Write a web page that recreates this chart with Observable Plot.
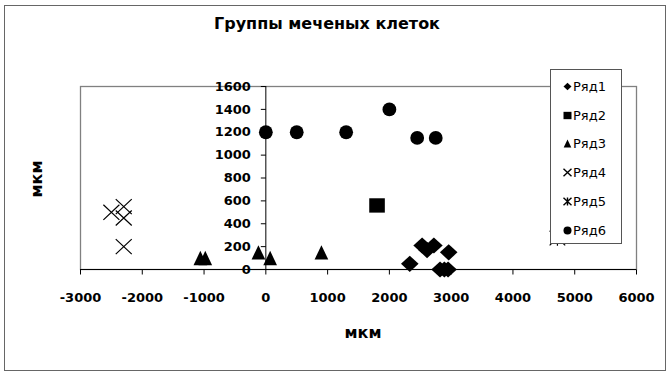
<!DOCTYPE html>
<html><head><meta charset="utf-8">
<script src="https://cdn.jsdelivr.net/npm/d3@7"></script>
<script src="https://cdn.jsdelivr.net/npm/@observablehq/plot@0.6"></script>
<style>
body{margin:0;background:#fff;}
#wrap{position:relative;width:670px;height:373px;overflow:hidden;font-family:"DejaVu Sans",sans-serif;background:#fff;}
#wrap svg.plot{position:absolute;left:0;top:0;}
#border{position:absolute;left:4px;top:5px;width:660px;height:364px;border:1px solid #666;pointer-events:none;}
#title{position:absolute;left:0;width:654px;top:14px;text-align:center;font-weight:bold;font-size:16px;color:#000;}
#xlab{position:absolute;left:343px;width:40px;top:323px;text-align:center;font-weight:bold;font-size:16px;}
#ylab{position:absolute;left:36px;top:179px;font-weight:bold;font-size:16px;transform:translate(-50%,-50%) rotate(-90deg);}
#legend{position:absolute;left:550px;top:69px;width:72px;height:175px;border:1px solid #555;background:#fff;box-sizing:border-box;padding-top:2px;}
.li{height:28.8px;display:flex;align-items:center;font-size:13px;}
.li svg{margin-left:12px;margin-right:1px;}
</style></head><body><div id="wrap"></div>
<script>
const titleText = "Группы меченых клеток";
const xAxisLabel = "мкм";
const yAxisLabel = "мкм";
const seriesNames = ["Ряд1", "Ряд2", "Ряд3", "Ряд4", "Ряд5", "Ряд6"];
const xTicks = [-3000, -2000, -1000, 0, 1000, 2000, 3000, 4000, 5000, 6000];
const yTicks = [0, 200, 400, 600, 800, 1000, 1200, 1400, 1600];

const row1X = [2330, 2530, 2610, 2720, 2960, 2820, 2890, 2950];
const row1Y = [50, 210, 170, 210, 150, 0, 0, 0];
const row2X = [1800];
const row2Y = [560];
const row3X = [-1060, -980, -120, 70, 900];
const row3Y = [100, 100, 150, 100, 150];
const row4X = [-2500, -2300, -2300, -2300];
const row4Y = [500, 550, 450, 200];
const row5X = [4720];
const row5Y = [275];
const row6X = [0, 500, 1300, 2000, 2450, 2750];
const row6Y = [1200, 1200, 1200, 1400, 1150, 1150];

const seriesX = [row1X, row2X, row3X, row4X, row5X, row6X];
const seriesY = [row1Y, row2Y, row3Y, row4Y, row5Y, row6Y];

// custom symbols (h = r)
const R = s => Math.sqrt(s / Math.PI);
const diamond = {draw(c, s){const h=R(s); c.moveTo(0,-h*0.92); c.lineTo(h,0); c.lineTo(0,h*0.92); c.lineTo(-h,0); c.closePath();}};
const square = {draw(c, s){const h=R(s); c.rect(-h,-h*0.92,2*h,1.84*h);}};
const triangle = {draw(c, s){const h=R(s); c.moveTo(0,-h); c.lineTo(h*0.95,h); c.lineTo(-h*0.95,h); c.closePath();}};
const cross = {draw(c, s){const h=R(s); c.moveTo(-h,-h*0.94); c.lineTo(h,h*0.94); c.moveTo(h,-h*0.94); c.lineTo(-h,h*0.94);}};
const star = {draw(c, s){const h=R(s); c.moveTo(-h,-h*0.94); c.lineTo(h,h*0.94); c.moveTo(h,-h*0.94); c.lineTo(-h,h*0.94); c.moveTo(0,-h); c.lineTo(0,h);}};
const circle = {draw(c, s){const h=R(s); c.moveTo(h,0); c.arc(0,0,h,0,2*Math.PI);}};
const tickLeft = {draw(c){c.moveTo(-5,0); c.lineTo(0,0);}};
const tickDown = {draw(c){c.moveTo(0,0); c.lineTo(0,5);}};

const symbols = [diamond, square, triangle, cross, star, circle];
const sizes = [8.8, 7.8, 7.2, 8, 7.8, 6.9];
const filled = [true, true, true, false, false, true];

const seriesMarks = seriesNames.map((name, i) => {
  const data = seriesX[i].map((x, j) => ({x, y: seriesY[i][j]}));
  return Plot.dot(data, {
    x: "x", y: "y", symbol: symbols[i], r: sizes[i],
    fill: filled[i] ? "black" : "none",
    stroke: filled[i] ? "none" : "black",
    strokeWidth: 1.2
  });
});

const font = "DejaVu Sans, sans-serif";
const plot = Plot.plot({
  width: 670, height: 373,
  marginLeft: 80, marginRight: 34, marginTop: 86, marginBottom: 104,
  style: {background: "transparent", fontFamily: font},
  x: {domain: [-3000, 6000], axis: null},
  y: {domain: [0, 1600], axis: null},
  marks: [
    Plot.frame({stroke: "#808080", strokeWidth: 1.3}),
    Plot.ruleX([0], {stroke: "black", strokeWidth: 1}),
    Plot.ruleY([0], {stroke: "black", strokeWidth: 1}),
    Plot.dot(yTicks, {x: () => 0, y: d => d, symbol: tickLeft, r: 3, fill: "none", stroke: "black", strokeWidth: 1}),
    Plot.dot(xTicks, {x: d => d, y: () => 0, symbol: tickDown, r: 3, fill: "none", stroke: "black", strokeWidth: 1}),
    Plot.text(yTicks, {x: () => 0, y: d => d, text: d => String(d), dx: -15, textAnchor: "end", fontWeight: "bold", fontSize: 13, fill: "black"}),
    Plot.text(xTicks, {x: d => d, y: () => 0, text: d => String(d), dy: 28, textAnchor: "middle", fontWeight: "bold", fontSize: 13, fill: "black"}),
    ...seriesMarks
  ]
});
plot.classList.add("plot");

const wrap = document.getElementById("wrap");
wrap.appendChild(plot);

const border = document.createElement("div"); border.id = "border"; wrap.appendChild(border);
const t = document.createElement("div"); t.id = "title"; t.textContent = titleText; wrap.appendChild(t);
const xl = document.createElement("div"); xl.id = "xlab"; xl.textContent = xAxisLabel; wrap.appendChild(xl);
const yl = document.createElement("div"); yl.id = "ylab"; yl.textContent = yAxisLabel; wrap.appendChild(yl);

const leg = document.createElement("div"); leg.id = "legend";
seriesNames.forEach((name, i) => {
  const row = document.createElement("div"); row.className = "li";
  const svg = d3.create("svg").attr("width", 9).attr("height", 9).attr("viewBox", "-4.5 -4.5 9 9");
  svg.append("path")
    .attr("d", d3.symbol(symbols[i], Math.PI * 16)())
    .attr("fill", filled[i] ? "black" : "none")
    .attr("stroke", filled[i] ? "none" : "black")
    .attr("stroke-width", 1.4);
  row.appendChild(svg.node());
  const sp = document.createElement("span"); sp.textContent = name; row.appendChild(sp);
  leg.appendChild(row);
});
wrap.appendChild(leg);
</script></body></html>
